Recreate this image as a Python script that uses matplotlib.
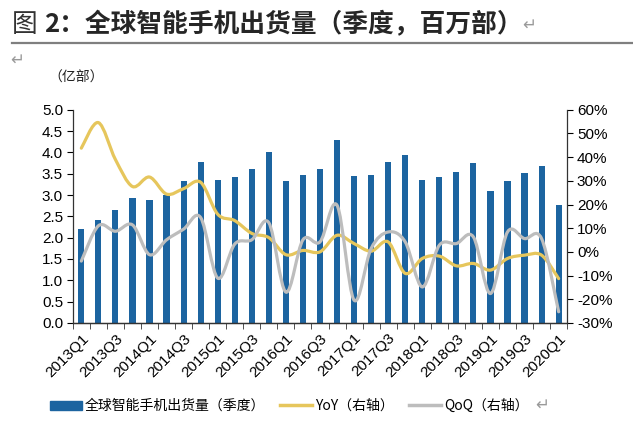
import numpy as np
import matplotlib
matplotlib.use("Agg")
import matplotlib.pyplot as plt
from matplotlib.path import Path
from matplotlib.patches import PathPatch, Patch
from matplotlib.lines import Line2D
from matplotlib.ticker import FuncFormatter, MultipleLocator

plt.rcParams['font.family'] = ['Liberation Sans', 'Noto Sans CJK SC', 'DejaVu Sans']

# 季度
quarters = [f"{y}Q{q}" for y in range(2013, 2021) for q in range(1, 5)][:29]

# 全球智能手机出货量（亿部）
shipments = [2.20, 2.42, 2.64, 2.92, 2.88, 3.00, 3.33, 3.77,
             3.36, 3.42, 3.60, 4.01, 3.32, 3.46, 3.61, 4.30,
             3.44, 3.48, 3.77, 3.94, 3.36, 3.42, 3.55, 3.75,
             3.09, 3.33, 3.51, 3.69, 2.76]

# YoY (%)
yoy = [43.8, 54.6, 39.0, 27.6, 31.6, 24.4, 26.7, 29.4,
       15.9, 13.2, 7.8, 6.0, -1.2, 0.6, 0.0, 7.0,
       3.5, 0.3, 4.2, -9.1, -2.8, -1.8, -5.9, -4.9,
       -7.7, -2.8, -1.4, -1.4, -11.3]

# QoQ (%)
qoq = [-3.9, 11.0, 8.7, 11.4, -1.2, 5.1, 9.6, 14.5,
       -11.1, 3.3, 5.1, 12.3, -17.0, 5.1, 4.2, 19.7,
       -20.4, 1.4, 8.4, 4.2, -14.8, 2.8, 3.5, 6.3,
       -17.6, 8.4, 5.6, 5.6, -25.3]

BAR_C = '#1c64a0'
YOY_C = '#e6c65c'
QOQ_C = '#bdbdbd'


def smooth_path(xs, ys):
    # Catmull-Rom style bezier, like Excel's smoothed line
    pts = np.column_stack([xs, ys]).astype(float)
    n = len(pts)
    verts = [pts[0]]
    codes = [Path.MOVETO]
    for i in range(n - 1):
        p0 = pts[i - 1] if i > 0 else pts[i]
        p1 = pts[i]
        p2 = pts[i + 1]
        p3 = pts[i + 2] if i + 2 < n else pts[i + 1]
        c1 = p1 + (p2 - p0) / 6
        c2 = p2 - (p3 - p1) / 6
        verts += [c1, c2, p2]
        codes += [Path.CURVE4] * 3
    return Path(verts, codes)


fig = plt.figure(figsize=(6.33, 4.34), dpi=100)
ax = fig.add_axes([0.115, 0.256, 0.781, 0.491])
ax2 = ax.twinx()

x = np.arange(len(quarters))
ax.bar(x, shipments, width=0.36, color=BAR_C, zorder=2)
ax.set_xlim(-0.5, len(quarters) - 0.5)
ax.set_ylim(0, 5.0)
ax.yaxis.set_major_locator(MultipleLocator(0.5))
ax.yaxis.set_major_formatter(FuncFormatter(lambda v, p: f"{v:.1f}"))

ax2.set_ylim(-30, 60)
ax2.yaxis.set_major_locator(MultipleLocator(10))
ax2.yaxis.set_major_formatter(FuncFormatter(lambda v, p: f"{v:.0f}%"))

ax2.add_patch(PathPatch(smooth_path(x, yoy), fill=False, ec=YOY_C, lw=2.3,
                        capstyle='round', joinstyle='round', zorder=3))
ax2.add_patch(PathPatch(smooth_path(x, qoq), fill=False, ec=QOQ_C, lw=2.3,
                        capstyle='round', joinstyle='round', zorder=4))

for a in (ax, ax2):
    a.spines['top'].set_visible(False)
    for s in a.spines.values():
        s.set_color('#333333')
        s.set_linewidth(0.9)
ax2.spines['left'].set_visible(False)
ax.spines['right'].set_visible(False)

ax.set_xticks(x[::2])
ax.set_xticklabels(quarters[::2], rotation=45, ha='right', rotation_mode='anchor',
                   fontsize=11)
ax.tick_params(axis='x', which='major', length=0, pad=6)
ax.set_xticks(np.arange(-0.5, len(quarters), 1), minor=True)
ax.tick_params(axis='x', which='minor', length=4, direction='out', color='#333333')
ax.tick_params(axis='y', labelsize=11, length=4, direction='out', pad=3)
ax2.tick_params(axis='y', labelsize=11, length=4, direction='out', pad=3)

# 标题
fig.text(12 / 633, 1 - 32 / 434, "图", fontsize=18.5, color='#333333',
         family=['Noto Sans CJK SC'])
fig.text(44 / 633, 1 - 32 / 434, "2：全球智能手机出货量（季度，百万部）", fontsize=18.5,
         color='#262626', fontweight='bold', family=['Noto Sans CJK SC'])
fig.text(522 / 633, 1 - 30 / 434, "↵", fontsize=12, color='#9a9a9a',
         family=['DejaVu Sans'])
fig.add_artist(Line2D([12 / 633, 1.0], [1 - 43 / 434, 1 - 43 / 434],
                      transform=fig.transFigure, color='#7f7f7f', lw=1.6))
fig.text(10 / 633, 1 - 65 / 434, "↵", fontsize=12, color='#9a9a9a',
         family=['DejaVu Sans'])
fig.text(48 / 633, 1 - 82 / 434, "（亿部）", fontsize=10, color='#222222',
         family=['Noto Sans CJK SC'])

handles = [Patch(color=BAR_C),
           Line2D([], [], color=YOY_C, lw=2.5),
           Line2D([], [], color=QOQ_C, lw=2.5)]
labels = ["全球智能手机出货量（季度）", "YoY（右轴）", "QoQ（右轴）"]
fig.legend(handles, labels, loc='center', bbox_to_anchor=(0.457, 1 - 406 / 434),
           ncol=3, frameon=False, handlelength=2.3, handleheight=0.6,
           columnspacing=1.1, handletextpad=0.2,
           prop={'family': ['Noto Sans CJK SC', 'DejaVu Sans'], 'size': 10})
fig.text(535 / 633, 1 - 410 / 434, "↵", fontsize=12, color='#9a9a9a',
         family=['DejaVu Sans'])

fig.savefig("out.png", dpi=100)
